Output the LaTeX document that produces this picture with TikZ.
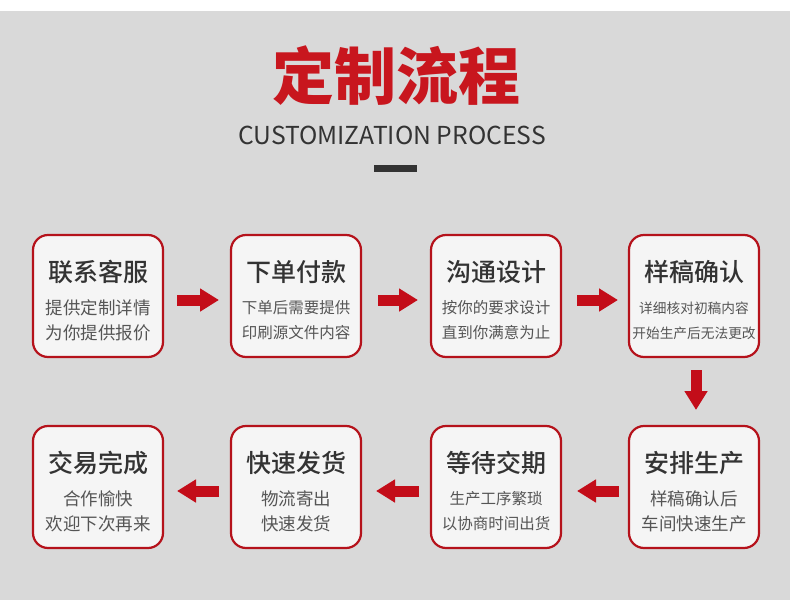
\documentclass[tikz,border=0pt]{standalone}
\usepackage{fontspec}
\setmainfont{Noto Sans CJK SC}
\newfontfamily\cjkmed{Noto Sans CJK SC Medium}
\usetikzlibrary{arrows.meta}
\definecolor{bg}{HTML}{D9D9D9}
\definecolor{titlered}{HTML}{C8161E}
\definecolor{boxred}{HTML}{B5121B}
\definecolor{arrowred}{HTML}{C30D19}
\definecolor{boxfill}{HTML}{F5F5F5}
\definecolor{dark}{HTML}{333333}
\definecolor{mid}{HTML}{555555}
\tikzset{
  stepbox/.style={draw=boxred, line width=2.2pt, fill=boxfill, rounded corners=15pt,
    minimum width=130pt, minimum height=122pt, outer sep=0pt, inner sep=0pt},
  boxtitle/.style={text=dark, font=\fontsize{25}{25}\selectfont\cjkmed, inner sep=0pt},
  subL/.style={text=mid, font=\fontsize{17.5}{17.5}\selectfont, inner sep=0pt},
  subM/.style={text=mid, font=\fontsize{15.5}{15.5}\selectfont, inner sep=0pt},
  subS/.style={text=mid, font=\fontsize{13.7}{13.7}\selectfont, inner sep=0pt},
  flow/.style={draw=arrowred, line width=11pt, -{Triangle[width=22pt,length=19pt]}, arrowred},
}
\newcommand{\stepcontent}[5]{%
  \node[boxtitle] (#1t) at ([yshift=-37pt]#1.north) {#2};
  \node[#5] (#1a) at ([yshift=-73pt]#1.north) {#3};
  \node[#5] (#1b) at ([yshift=-98pt]#1.north) {#4};
}
\begin{document}
\begin{tikzpicture}[x=1pt,y=-1pt]
\useasboundingbox (0,0) rectangle (790,610);
\fill[white] (0,0) rectangle (790,610);
\fill[bg] (0,11) rectangle (790,600);
\node[text=titlered, font=\fontsize{62}{62}\selectfont\bfseries, inner sep=0pt] (title) at (396,76) {定制流程};
\node[text=dark, font=\fontsize{24.7}{24.7}\selectfont, inner sep=0pt] (sub) at (392,135) {CUSTOMIZATION PROCESS};
\fill[dark] (374,165) rectangle (417,172);
% row 1
\node[stepbox] (b1) at (98,296) {};
\node[stepbox] (b2) at (296,296) {};
\node[stepbox] (b3) at (496,296) {};
\node[stepbox] (b4) at (694,296) {};
% row 2
\node[stepbox] (b5) at (694,487) {};
\node[stepbox] (b6) at (496,487) {};
\node[stepbox] (b7) at (296,487) {};
\node[stepbox] (b8) at (98,487) {};
\stepcontent{b1}{联系客服}{提供定制详情}{为你提供报价}{subL}
\stepcontent{b2}{下单付款}{下单后需要提供}{印刷源文件内容}{subM}
\stepcontent{b3}{沟通设计}{按你的要求设计}{直到你满意为止}{subM}
\stepcontent{b4}{样稿确认}{详细核对初稿内容}{开始生产后无法更改}{subS}
\stepcontent{b5}{安排生产}{样稿确认后}{车间快速生产}{subL}
\stepcontent{b6}{等待交期}{生产工序繁琐}{以协商时间出货}{subM}
\stepcontent{b7}{快速发货}{物流寄出}{快速发货}{subL}
\stepcontent{b8}{交易完成}{合作愉快}{欢迎下次再来}{subL}
% arrows
\draw[flow] ([xshift=14pt,yshift=-4pt]b1.east) -- ([xshift=-12pt,yshift=-4pt]b2.west);
\draw[flow] ([xshift=17pt,yshift=-4pt]b2.east) -- ([xshift=-13pt,yshift=-4pt]b3.west);
\draw[flow] ([xshift=16pt,yshift=-4pt]b3.east) -- ([xshift=-11pt,yshift=-4pt]b4.west);
\draw[flow] ([yshift=-13pt,xshift=2pt]b4.south) -- ([yshift=16pt,xshift=2pt]b5.north);
\draw[flow] ([xshift=-10pt,yshift=-4pt]b5.west) -- ([xshift=16pt,yshift=-4pt]b6.east);
\draw[flow] ([xshift=-12pt,yshift=-4pt]b6.west) -- ([xshift=15pt,yshift=-4pt]b7.east);
\draw[flow] ([xshift=-12pt,yshift=-4pt]b7.west) -- ([xshift=14pt,yshift=-4pt]b8.east);
\end{tikzpicture}
\end{document}
